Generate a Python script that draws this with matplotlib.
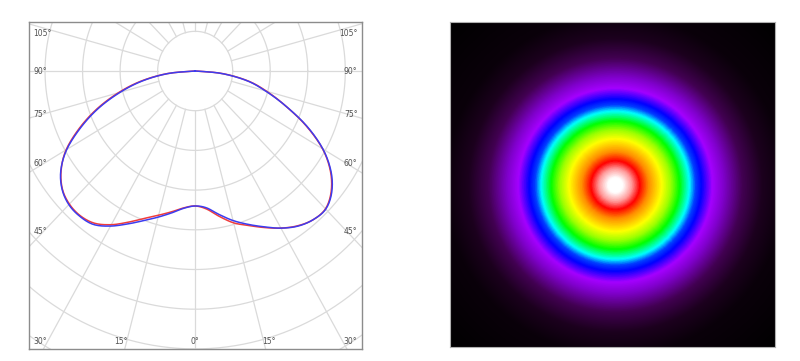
import numpy as np
import matplotlib.pyplot as plt
from matplotlib.colors import LinearSegmentedColormap

# polar intensity curve, gamma in degrees (negative = left half), r in grid rings
gamma = [-90, -85, -80, -75, -70, -65, -60, -55, -50, -45, -40, -35, -30, -25, -20, -15, -10, -5,
         0, 5, 10, 15, 20, 25, 30, 35, 40, 45, 50, 55, 60, 65, 70, 75, 80, 85, 90]
r_red = [0, 0.74, 1.46, 2.12, 2.78, 3.40, 3.97, 4.36, 4.62, 4.74, 4.76, 4.68, 4.47, 4.20, 3.95, 3.76, 3.60, 3.46,
         3.40, 3.49, 3.72, 3.96, 4.14, 4.35, 4.57, 4.76, 4.89, 4.91, 4.73, 4.40, 3.92, 3.26, 2.56, 1.97, 1.42, 0.72, 0]
r_blue = [0, 0.72, 1.42, 2.07, 2.74, 3.36, 3.95, 4.37, 4.63, 4.76, 4.78, 4.72, 4.51, 4.25, 4.01, 3.81, 3.63, 3.47,
          3.40, 3.46, 3.67, 3.90, 4.11, 4.33, 4.57, 4.77, 4.89, 4.92, 4.75, 4.42, 3.93, 3.28, 2.56, 1.94, 1.40, 0.70, 0]

side_labels = ['105°', '90°', '75°', '60°', '45°']
side_angles = [105, 90, 75, 60, 45]
bottom_labels = ['30°', '15°', '0°', '15°', '30°']
bottom_angles = [-30, -15, 0, 15, 30]

# false-colour spot: ring radius (px) and colour
ring_r = [0, 7, 16, 24, 33, 46, 55, 64, 74, 80, 86, 97, 108, 127, 147, 170, 235]
ring_c = ['#ffffff', '#ffffff', '#ff9a9a', '#ff0000', '#ff8c00', '#ffff00', '#9cff00', '#00ff00', '#00ffff',
          '#0040ff', '#0000ff', '#a400ff', '#8000cc', '#420052', '#1c001e', '#0a000a', '#000000']


def smooth(x, y, n=10):
    # catmull-rom drawing of the polyline so the curve looks smooth
    p = np.column_stack([x, y])
    p = np.vstack([p[0], p, p[-1]])
    out = []
    s = np.linspace(0, 1, n, endpoint=False)[:, None]
    for i in range(1, len(p) - 2):
        p0, p1, p2, p3 = p[i-1], p[i], p[i+1], p[i+2]
        out.append(0.5*((2*p1) + (-p0 + p2)*s + (2*p0 - 5*p1 + 4*p2 - p3)*s**2 + (-p0 + 3*p1 - 3*p2 + p3)*s**3))
    out.append(p[-2][None, :])
    out = np.vstack(out)
    return out[:, 0], out[:, 1]


fig = plt.figure(figsize=(8, 3.61), dpi=100)

# ---- left: polar diagram on a cartesian axes (image is slightly stretched vertically)
ax = fig.add_axes([0.0359, 0.0324, 0.4166, 0.9066])
ax.set_xlim(-4.435, 4.445)
ax.set_ylim(-7.01, 1.234)
ax.set_aspect('auto')
ax.set_xticks([])
ax.set_yticks([])
for s in ax.spines.values():
    s.set_color('#8c8c8c')
    s.set_linewidth(1.0)

grid_c = '#dadada'
t = np.linspace(0, 2*np.pi, 400)
for rr in range(1, 10):
    ax.plot(rr*np.cos(t), rr*np.sin(t), color=grid_c, lw=0.9, zorder=1)
for a in range(0, 360, 15):
    ar = np.deg2rad(a)
    ax.plot([np.sin(ar), 10*np.sin(ar)], [-np.cos(ar), -10*np.cos(ar)], color=grid_c, lw=0.9, zorder=1)

g = np.deg2rad(gamma)
for rv, col, z in [(r_red, '#f03c3c', 3), (r_blue, '#3c3cf0', 4)]:
    rv = np.array(rv)
    sx, sy = smooth(rv*np.sin(g), -rv*np.cos(g))
    ax.plot(sx, sy, color=col, lw=1.1, zorder=z)

x0, x1 = ax.get_xlim()
y0, y1 = ax.get_ylim()
lab_kw = dict(fontsize=5.5, color='#505050', va='center', zorder=5)
inset = 0.38
for lab, a in zip(side_labels, side_angles):
    yy = -(abs(x0) - inset) / np.tan(np.deg2rad(a)) if a != 90 else 0
    yy = min(yy, y1 - 0.28)
    ax.text(x0 + 0.12, yy, lab, ha='left', **lab_kw)
    ax.text(x1 - 0.12, yy, lab, ha='right', **lab_kw)
for lab, a in zip(bottom_labels, bottom_angles):
    xx = -y0 * np.tan(np.deg2rad(a)) + 0.09*np.sign(a)
    ax.text(xx, y0 + 0.2, lab, ha='center', **lab_kw)

# ---- right: radial false-colour spot
ax2 = fig.add_axes([0.5625, 0.0396, 0.4066, 0.8994])
xs = np.linspace(-165, 160.3, 500)
ys = np.linspace(-161.7, 163, 500)
X, Y = np.meshgrid(xs, ys)
R = np.hypot(X, Y)
rmax = ring_r[-1]
cmap = LinearSegmentedColormap.from_list('spot', [(r/rmax, c) for r, c in zip(ring_r, ring_c)])
ax2.imshow(R, cmap=cmap, vmin=0, vmax=rmax, origin='lower',
           extent=[xs[0], xs[-1], ys[0], ys[-1]], aspect='auto', interpolation='bilinear')
ax2.set_xticks([])
ax2.set_yticks([])
for s in ax2.spines.values():
    s.set_color('#b0b0b0')
    s.set_linewidth(0.8)

fig.savefig('out.png', dpi=100)
